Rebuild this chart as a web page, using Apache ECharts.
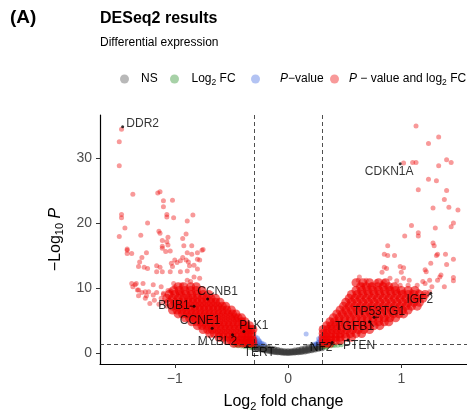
<!DOCTYPE html>
<html>
<head>
<meta charset="utf-8">
<title>DESeq2 results</title>
<script src="https://cdn.jsdelivr.net/npm/echarts@6/dist/echarts.min.js"></script>
<style>
  html, body { margin: 0; padding: 0; background: #fff; }
  #chart { width: 467px; height: 415px; }
</style>
</head>
<body>
<div id="chart"></div>
<script>
// every point is [log2 fold change, -log10 p]

// not significant (grey band round zero)
const nsPoints = [
  [-0.30, 0.72], [-0.30, 1.00], [-0.30, 1.25], [-0.27, 0.62], [-0.27, 0.92], [-0.27, 1.20],
  [-0.24, 0.52], [-0.24, 0.80], [-0.24, 1.10], [-0.21, 0.42], [-0.21, 0.70], [-0.21, 0.98],
  [-0.18, 0.32], [-0.18, 0.56], [-0.18, 0.85], [-0.15, 0.23], [-0.15, 0.45], [-0.15, 0.70],
  [-0.12, 0.15], [-0.12, 0.35], [-0.12, 0.56], [-0.09, 0.10], [-0.09, 0.26], [-0.09, 0.45],
  [-0.06, 0.05], [-0.06, 0.18], [-0.06, 0.35], [-0.03, 0.02], [-0.03, 0.12], [-0.03, 0.28],
  [0.00, 0.00], [0.00, 0.10], [0.00, 0.25], [0.03, 0.02], [0.03, 0.13], [0.03, 0.28],
  [0.06, 0.05], [0.06, 0.18], [0.06, 0.36], [0.09, 0.10], [0.09, 0.27], [0.09, 0.46],
  [0.12, 0.16], [0.12, 0.36], [0.12, 0.58], [0.15, 0.24], [0.15, 0.47], [0.15, 0.72],
  [0.18, 0.33], [0.18, 0.58], [0.18, 0.87], [0.21, 0.43], [0.21, 0.72], [0.21, 1.00],
  [0.24, 0.53], [0.24, 0.82], [0.24, 1.12], [0.27, 0.63], [0.27, 0.94], [0.27, 1.22],
  [0.30, 0.72], [0.30, 1.02], [0.30, 1.26],
  [-0.285, 0.85], [-0.255, 0.70], [-0.225, 0.60], [-0.195, 0.48], [-0.165, 0.38], [-0.135, 0.28],
  [-0.105, 0.20], [-0.075, 0.14], [-0.045, 0.08], [-0.015, 0.05], [0.015, 0.05], [0.045, 0.09],
  [0.075, 0.14], [0.105, 0.21], [0.135, 0.29], [0.165, 0.39], [0.195, 0.50], [0.225, 0.62],
  [0.255, 0.72], [0.285, 0.86]
];

// |log2 FC| > 0.3 but p above 0.05 (green)
const fcPoints = [
  [-0.47, 1.20], [-0.45, 1.25], [-0.44, 1.10], [-0.41, 1.05], [-0.40, 1.25], [-0.38, 0.95],
  [-0.35, 1.20], [-0.34, 0.85], [-0.33, 1.10], [-0.32, 0.80], [-0.31, 0.95],
  [0.31, 0.90], [0.32, 1.20], [0.33, 1.00], [0.34, 0.85], [0.35, 1.05], [0.36, 1.25],
  [0.38, 1.10], [0.40, 1.27], [0.41, 1.15], [0.44, 1.20], [0.47, 1.25]
];

// p below 0.05 but small fold change (blue)
const pPoints = [
  [-0.29, 2.50], [-0.29, 2.10], [-0.28, 1.70], [-0.27, 2.30], [-0.27, 1.40], [-0.26, 2.00],
  [-0.25, 1.80], [-0.25, 1.60], [-0.24, 1.40], [-0.23, 1.50], [-0.21, 1.35],
  [0.29, 2.50], [0.29, 1.60], [0.28, 2.00], [0.27, 2.20], [0.27, 1.70], [0.26, 1.50],
  [0.25, 1.40], [0.23, 1.35], [0.16, 2.90]
];

// significant on both counts, the loose points
const sigPoints = [
  [-1.47, 34.4], [-1.49, 32.5], [-1.49, 28.8], [-1.37, 24.4], [-1.15, 24.6], [-1.13, 24.8],
  [-1.10, 23.4], [-1.02, 23.5], [-1.10, 22.5], [-1.47, 21.3], [-1.47, 20.8], [-1.07, 21.3],
  [-1.07, 20.9], [-1.01, 20.8], [-0.84, 21.2], [-0.89, 20.3], [-1.44, 19.2], [-1.24, 20.0],
  [-1.49, 17.9], [-1.30, 18.1], [-1.14, 18.7], [-1.13, 18.4], [-0.90, 18.3], [-0.93, 17.6],
  [-1.06, 17.8], [-1.11, 17.3], [-1.07, 17.1], [-0.85, 16.5], [-0.75, 15.9], [-1.42, 16.0],
  [-1.11, 16.4], [-1.06, 16.6], [-0.92, 16.5], [-1.42, 15.8], [-1.42, 15.3], [-1.38, 15.3],
  [-1.25, 15.4], [-1.11, 16.1], [-1.08, 15.6], [-1.04, 15.7], [-1.29, 14.7], [-1.31, 14.0],
  [-1.32, 13.3], [-0.89, 15.4], [-0.85, 15.2], [-0.80, 15.4], [-0.76, 15.8], [-0.93, 14.7],
  [-0.95, 14.2], [-0.90, 14.3], [-0.88, 14.0], [-1.00, 14.3], [-1.03, 13.8], [-0.98, 13.9],
  [-0.80, 14.4], [-0.78, 14.3], [-0.83, 13.5], [-0.87, 13.4], [-1.16, 13.4], [-1.13, 13.2],
  [-1.02, 13.3], [-1.27, 13.2], [-1.24, 13.0], [-1.16, 12.5], [-1.11, 12.5], [-1.04, 12.5],
  [-0.95, 12.5], [-0.89, 12.6], [-0.80, 12.9], [-1.34, 10.7], [-1.37, 10.2], [-1.28, 10.7],
  [-1.38, 10.7], [-1.35, 10.5], [-1.19, 10.5], [-1.12, 10.2], [-1.01, 10.7], [-1.00, 10.2],
  [-1.04, 9.6], [-0.94, 10.5], [-0.89, 11.2], [-0.86, 11.0], [-0.83, 11.7], [-0.78, 11.5],
  [-1.32, 9.7], [-1.26, 9.4], [-1.25, 8.8], [-1.32, 8.8], [-1.33, 9.7], [-1.29, 9.3],
  [-1.23, 9.4], [-1.16, 9.3], [-1.10, 9.2], [-1.03, 9.4], [-0.95, 9.2], [-1.22, 7.6],
  [-1.26, 8.4], [-1.12, 8.4], [-1.10, 9.0], [-1.06, 9.6], [-1.10, 7.8], [-1.07, 7.2],
  [-1.18, 8.1], [-1.14, 7.5], [-1.19, 8.9],
  [1.13, 34.9], [1.33, 33.2], [1.24, 32.2], [1.02, 29.2], [1.10, 29.3], [1.13, 29.3],
  [1.40, 29.7], [1.44, 29.3], [1.33, 28.8], [1.24, 26.7], [1.31, 26.5], [1.15, 25.1],
  [1.40, 25.0], [1.38, 23.6], [1.28, 22.3], [1.42, 22.4], [1.50, 22.0], [1.46, 20.0],
  [1.44, 19.4], [1.09, 19.6], [1.30, 19.2], [1.15, 18.5], [1.15, 18.0], [1.03, 18.0],
  [1.28, 16.9], [1.29, 16.5], [0.88, 16.5], [0.85, 15.2], [0.88, 15.0], [0.94, 15.0],
  [1.31, 15.0], [1.32, 15.2], [1.39, 15.2], [1.46, 14.4], [1.26, 13.8], [1.40, 13.6],
  [1.21, 12.8], [0.99, 13.3], [1.02, 13.1], [1.00, 12.4], [0.85, 13.2], [0.87, 13.0],
  [0.83, 12.4], [1.35, 12.0], [1.34, 11.7], [1.32, 11.2], [1.46, 11.6], [1.46, 11.1],
  [1.38, 10.2], [0.63, 11.7], [0.69, 11.2], [0.66, 10.5], [0.74, 10.5], [0.78, 11.0],
  [0.83, 10.7], [0.90, 11.5], [0.96, 11.1], [0.99, 10.4], [1.06, 10.4], [1.07, 11.2],
  [1.14, 10.4], [1.21, 10.7], [1.25, 11.2], [1.27, 10.2], [1.22, 12.5], [0.62, 11.2],
  [0.85, 11.0], [1.02, 11.5], [1.19, 11.0], [0.90, 9.9], [0.97, 9.5], [1.02, 9.4],
  [1.09, 9.4], [1.15, 9.5], [1.21, 9.0], [1.25, 9.4]
];

// significant on both counts, the packed mass on each side
const sigCore = [
  [-0.97, 10.2], [-0.92, 10.2], [-0.86, 10.2], [-0.81, 10.2],
  [-1.01, 9.6], [-0.96, 9.6], [-0.91, 9.6], [-0.86, 9.6], [-0.81, 9.6], [-0.76, 9.6],
  [-1.05, 9.0], [-1.00, 9.0], [-0.95, 9.0], [-0.90, 9.0], [-0.85, 9.0], [-0.80, 9.0],
  [-0.75, 9.0], [-0.70, 9.0],
  [-1.07, 8.4], [-1.02, 8.4], [-0.97, 8.4], [-0.92, 8.4], [-0.88, 8.4], [-0.84, 8.4],
  [-0.80, 8.4], [-0.76, 8.4], [-0.72, 8.4], [-0.68, 8.4], [-0.64, 8.4],
  [-1.05, 7.8], [-1.00, 7.8], [-0.96, 7.8], [-0.92, 7.8], [-0.88, 7.8], [-0.84, 7.8],
  [-0.80, 7.8], [-0.76, 7.8], [-0.72, 7.8], [-0.68, 7.8], [-0.64, 7.8], [-0.60, 7.8],
  [-1.02, 7.2], [-0.98, 7.2], [-0.94, 7.2], [-0.90, 7.2], [-0.86, 7.2], [-0.82, 7.2],
  [-0.78, 7.2], [-0.74, 7.2], [-0.70, 7.2], [-0.66, 7.2], [-0.62, 7.2], [-0.58, 7.2], [-0.55, 7.2],
  [-1.02, 6.6], [-0.98, 6.6], [-0.94, 6.6], [-0.90, 6.6], [-0.86, 6.6], [-0.82, 6.6], [-0.78, 6.6],
  [-0.74, 6.6], [-0.70, 6.6], [-0.66, 6.6], [-0.62, 6.6], [-0.58, 6.6], [-0.54, 6.6], [-0.50, 6.6],
  [-0.97, 6.0], [-0.93, 6.0], [-0.89, 6.0], [-0.85, 6.0], [-0.81, 6.0], [-0.77, 6.0], [-0.73, 6.0],
  [-0.69, 6.0], [-0.65, 6.0], [-0.61, 6.0], [-0.57, 6.0], [-0.53, 6.0], [-0.49, 6.0], [-0.46, 6.0],
  [-0.91, 5.4], [-0.87, 5.4], [-0.83, 5.4], [-0.79, 5.4], [-0.75, 5.4], [-0.71, 5.4], [-0.67, 5.4],
  [-0.63, 5.4], [-0.59, 5.4], [-0.55, 5.4], [-0.51, 5.4], [-0.47, 5.4], [-0.44, 5.4], [-0.41, 5.4],
  [-0.85, 4.8], [-0.81, 4.8], [-0.77, 4.8], [-0.73, 4.8], [-0.69, 4.8], [-0.65, 4.8], [-0.61, 4.8],
  [-0.57, 4.8], [-0.53, 4.8], [-0.49, 4.8], [-0.45, 4.8], [-0.41, 4.8], [-0.38, 4.8],
  [-0.80, 4.2], [-0.76, 4.2], [-0.72, 4.2], [-0.68, 4.2], [-0.64, 4.2], [-0.60, 4.2], [-0.56, 4.2],
  [-0.52, 4.2], [-0.48, 4.2], [-0.44, 4.2], [-0.40, 4.2], [-0.37, 4.2], [-0.34, 4.2],
  [-0.75, 3.6], [-0.71, 3.6], [-0.67, 3.6], [-0.63, 3.6], [-0.59, 3.6], [-0.55, 3.6], [-0.51, 3.6],
  [-0.47, 3.6], [-0.43, 3.6], [-0.39, 3.6], [-0.36, 3.6], [-0.33, 3.6], [-0.31, 3.6],
  [-0.69, 3.0], [-0.65, 3.0], [-0.61, 3.0], [-0.57, 3.0], [-0.53, 3.0], [-0.49, 3.0], [-0.45, 3.0],
  [-0.41, 3.0], [-0.38, 3.0], [-0.35, 3.0], [-0.32, 3.0],
  [-0.61, 2.4], [-0.57, 2.4], [-0.53, 2.4], [-0.49, 2.4], [-0.45, 2.4], [-0.41, 2.4], [-0.38, 2.4],
  [-0.35, 2.4], [-0.32, 2.4],
  [-0.54, 1.9], [-0.50, 1.9], [-0.46, 1.9], [-0.42, 1.9], [-0.39, 1.9], [-0.36, 1.9], [-0.33, 1.9],
  [-0.31, 1.9],
  [-0.48, 1.5], [-0.44, 1.5], [-0.40, 1.5], [-0.37, 1.5], [-0.34, 1.5], [-0.31, 1.5],
  [0.60, 10.8], [0.66, 10.8], [0.72, 10.8], [0.80, 10.8], [0.86, 10.8],
  [0.64, 10.2], [0.69, 10.2], [0.74, 10.2], [0.79, 10.2], [0.84, 10.2], [0.89, 10.2], [0.94, 10.2],
  [0.60, 9.6], [0.65, 9.6], [0.70, 9.6], [0.75, 9.6], [0.80, 9.6], [0.85, 9.6], [0.90, 9.6],
  [0.95, 9.6], [1.00, 9.6], [1.06, 9.6], [1.12, 9.6],
  [0.56, 9.0], [0.61, 9.0], [0.66, 9.0], [0.71, 9.0], [0.76, 9.0], [0.81, 9.0], [0.86, 9.0],
  [0.91, 9.0], [0.96, 9.0], [1.01, 9.0], [1.06, 9.0], [1.11, 9.0], [1.16, 9.0], [1.21, 9.0],
  [0.54, 8.4], [0.59, 8.4], [0.64, 8.4], [0.69, 8.4], [0.74, 8.4], [0.79, 8.4], [0.84, 8.4],
  [0.89, 8.4], [0.94, 8.4], [0.99, 8.4], [1.04, 8.4], [1.09, 8.4], [1.14, 8.4], [1.19, 8.4],
  [0.51, 7.8], [0.56, 7.8], [0.61, 7.8], [0.66, 7.8], [0.71, 7.8], [0.76, 7.8], [0.81, 7.8],
  [0.86, 7.8], [0.91, 7.8], [0.96, 7.8], [1.01, 7.8], [1.06, 7.8], [1.11, 7.8], [1.16, 7.8],
  [0.49, 7.2], [0.54, 7.2], [0.59, 7.2], [0.64, 7.2], [0.69, 7.2], [0.74, 7.2], [0.79, 7.2],
  [0.84, 7.2], [0.89, 7.2], [0.94, 7.2], [0.99, 7.2], [1.04, 7.2], [1.09, 7.2], [1.14, 7.2],
  [0.46, 6.6], [0.51, 6.6], [0.56, 6.6], [0.61, 6.6], [0.66, 6.6], [0.71, 6.6], [0.76, 6.6],
  [0.81, 6.6], [0.86, 6.6], [0.91, 6.6], [0.96, 6.6], [1.01, 6.6], [1.06, 6.6],
  [0.43, 6.0], [0.48, 6.0], [0.53, 6.0], [0.58, 6.0], [0.63, 6.0], [0.68, 6.0], [0.73, 6.0],
  [0.78, 6.0], [0.83, 6.0], [0.88, 6.0], [0.93, 6.0], [0.98, 6.0], [1.02, 6.0],
  [0.40, 5.4], [0.45, 5.4], [0.50, 5.4], [0.55, 5.4], [0.60, 5.4], [0.65, 5.4], [0.70, 5.4],
  [0.75, 5.4], [0.80, 5.4], [0.85, 5.4], [0.90, 5.4], [0.95, 5.4],
  [0.37, 4.8], [0.41, 4.8], [0.45, 4.8], [0.50, 4.8], [0.55, 4.8], [0.60, 4.8], [0.65, 4.8],
  [0.70, 4.8], [0.75, 4.8], [0.80, 4.8], [0.85, 4.8], [0.89, 4.8],
  [0.34, 4.2], [0.38, 4.2], [0.42, 4.2], [0.46, 4.2], [0.51, 4.2], [0.56, 4.2], [0.61, 4.2],
  [0.66, 4.2], [0.71, 4.2], [0.76, 4.2], [0.81, 4.2],
  [0.31, 3.6], [0.35, 3.6], [0.39, 3.6], [0.43, 3.6], [0.47, 3.6], [0.52, 3.6], [0.57, 3.6],
  [0.62, 3.6], [0.67, 3.6], [0.72, 3.6],
  [0.31, 3.0], [0.34, 3.0], [0.38, 3.0], [0.42, 3.0], [0.46, 3.0], [0.50, 3.0], [0.55, 3.0],
  [0.60, 3.0], [0.65, 3.0],
  [0.31, 2.4], [0.34, 2.4], [0.38, 2.4], [0.42, 2.4], [0.46, 2.4], [0.51, 2.4], [0.56, 2.4],
  [0.31, 1.9], [0.34, 1.9], [0.38, 1.9], [0.42, 1.9], [0.46, 1.9],
  [0.31, 1.5], [0.34, 1.5], [0.37, 1.5]
];

// labelled genes
const geneNames = ['DDR2', 'CDKN1A', 'CCNB1', 'BUB1', 'CCNE1', 'PLK1', 'MYBL2', 'TERT',
  'NF2', 'PTEN', 'TGFB1', 'TP53TG1', 'IGF2'];
const geneFc = [-1.46, 0.99, -0.71, -0.83, -0.67, -0.39, -0.49, -0.36, 0.39, 0.53, 0.72, 0.76, 1.26];
const geneP = [34.8, 29.1, 8.3, 7.2, 3.8, 3.3, 2.8, 1.0, 1.6, 2.0, 4.8, 5.5, 9.2];

const xTicks = [-1, 0, 1];
const yTicks = [0, 10, 20, 30];
const fcCut = 0.3;
const pCut = 1.3;

// where each gene label sits relative to its point (px)
const labelShift = {
  DDR2: [20, -3], CDKN1A: [-11, 8], CCNB1: [10, -7], BUB1: [-20, 0], CCNE1: [-12, -8],
  PLK1: [10, -6], MYBL2: [-15, 7], TERT: [12, 6], NF2: [-11, 5], PTEN: [11, 6],
  TGFB1: [-15, 5], TP53TG1: [5, -6], IGF2: [-11, 7]
};
const withLine = ['BUB1', 'TGFB1', 'TP53TG1'];

const FONT = 'Liberation Sans, Arial, Helvetica, sans-serif';
const colNS = 'rgba(77,77,77,0.5)';
const colFC = 'rgba(34,139,34,0.5)';
const colP = 'rgba(65,105,225,0.5)';
const colSig = 'rgba(238,0,0,0.5)';

const legendRich = {
  n: { fontSize: 12, fontFamily: FONT, color: '#000', lineHeight: 16 },
  i: { fontSize: 12, fontFamily: FONT, color: '#000', fontStyle: 'italic', lineHeight: 16 },
  s: { fontSize: 8.5, fontFamily: FONT, color: '#000', verticalAlign: 'bottom', lineHeight: 12 }
};
const legendText = {
  'NS': '{n|NS}',
  'Log2 FC': '{n|Log}{s|2}{n| FC}',
  'P-value': '{i|P}{n|\u2212value}',
  'P-value and log2 FC': '{i|P}{n| \u2212 value and log}{s|2}{n| FC}'
};
function makeLegend (name, color, left, w) {
  return {
    data: [{ name: name, itemStyle: { color: color } }],
    left: left,
    top: 68,
    icon: 'circle',
    itemWidth: w,
    itemHeight: 9,
    selectedMode: false,
    formatter: n => legendText[n],
    textStyle: { rich: legendRich }
  };
}

const chart = echarts.init(document.getElementById('chart'));

const option = {
  animation: false,
  backgroundColor: '#fff',
  textStyle: { fontFamily: FONT },
  title: [
    { text: '(A)', left: 5, top: 3, textStyle: { fontSize: 19, fontWeight: 'bold', color: '#000', fontFamily: FONT } },
    { text: 'DESeq2 results', left: 95, top: 6, textStyle: { fontSize: 16, fontWeight: 'bold', color: '#000', fontFamily: FONT } },
    { text: 'Differential expression', left: 95, top: 32, textStyle: { fontSize: 12, fontWeight: 'normal', color: '#000', fontFamily: FONT } }
  ],
  legend: [
    makeLegend('NS', colNS, 115, 23),
    makeLegend('Log2 FC', colFC, 165, 24),
    makeLegend('P-value', colP, 246, 39),
    makeLegend('P-value and log2 FC', colSig, 325, 19)
  ],
  grid: { left: 100, right: 0, top: 115, bottom: 51, containLabel: false, outerBoundsMode: 'none' },
  xAxis: {
    type: 'value',
    min: -1.66,
    max: 1.58,
    name: '{n|Log}{s|2}{n| fold change}',
    nameLocation: 'middle',
    nameGap: 28,
    nameTextStyle: {
      rich: {
        n: { fontSize: 16, color: '#000', fontFamily: FONT, lineHeight: 20 },
        s: { fontSize: 11, color: '#000', fontFamily: FONT, verticalAlign: 'bottom', lineHeight: 14 }
      }
    },
    splitLine: { show: false },
    axisLine: { show: true, onZero: false, lineStyle: { color: '#000', width: 1.2 } },
    axisTick: { show: true, length: 4, customValues: xTicks, lineStyle: { color: '#333', width: 1 } },
    axisLabel: {
      customValues: xTicks,
      margin: 8,
      fontSize: 14,
      color: '#4d4d4d',
      fontFamily: FONT,
      formatter: v => (v < 0 ? '\u2212' + Math.abs(v) : String(v))
    }
  },
  yAxis: {
    type: 'value',
    min: -1.7,
    max: 36.6,
    name: '{n|\u2212Log}{s|10}{i| P}',
    nameLocation: 'middle',
    nameGap: 32,
    nameRotate: 90,
    nameTextStyle: {
      rich: {
        n: { fontSize: 16, color: '#000', fontFamily: FONT, lineHeight: 20 },
        i: { fontSize: 16, color: '#000', fontFamily: FONT, fontStyle: 'italic', lineHeight: 20 },
        s: { fontSize: 11, color: '#000', fontFamily: FONT, verticalAlign: 'bottom', lineHeight: 14 }
      }
    },
    splitLine: { show: false },
    axisLine: { show: true, onZero: false, lineStyle: { color: '#000', width: 1.2 } },
    axisTick: { show: true, length: 4, customValues: yTicks, lineStyle: { color: '#333', width: 1 } },
    axisLabel: { customValues: yTicks, margin: 8, fontSize: 14, color: '#4d4d4d', fontFamily: FONT }
  },
  series: [
    {
      name: 'NS',
      type: 'scatter',
      data: nsPoints,
      symbolSize: 6,
      itemStyle: { color: 'rgba(60,60,60,0.75)' },
      markLine: {
        silent: true,
        symbol: 'none',
        label: { show: false },
        lineStyle: { color: '#222', width: 0.8, type: [4, 3] },
        data: [{ xAxis: -fcCut }, { xAxis: fcCut }, { yAxis: pCut }]
      }
    },
    {
      name: 'Log2 FC',
      type: 'scatter',
      data: fcPoints,
      symbolSize: 5,
      itemStyle: { color: colFC }
    },
    {
      name: 'P-value',
      type: 'scatter',
      data: pPoints,
      symbolSize: 5,
      itemStyle: { color: colP }
    },
    {
      name: 'P-value and log2 FC',
      type: 'scatter',
      data: sigPoints,
      symbolSize: 5,
      itemStyle: { color: colSig }
    },
    {
      name: 'P-value and log2 FC',
      type: 'scatter',
      data: sigCore,
      symbolSize: 9,
      itemStyle: { color: 'rgba(236,0,0,0.75)' }
    },
    {
      name: 'genes',
      type: 'scatter',
      data: geneNames.map((n, i) => ({
        name: n,
        value: [geneFc[i], geneP[i]],
        labelLine: { show: withLine.includes(n) }
      })),
      symbolSize: 3,
      itemStyle: { color: '#000' },
      z: 5,
      label: {
        show: true,
        position: 'inside',
        formatter: p => p.name,
        fontSize: 12,
        color: '#000',
        fontFamily: FONT
      },
      labelLine: { lineStyle: { color: '#000', width: 0.8 } },
      labelLayout: params => {
        const s = labelShift[geneNames[params.dataIndex]];
        return { dx: s[0], dy: s[1] };
      }
    }
  ]
};

chart.setOption(option);
</script>
</body>
</html>
